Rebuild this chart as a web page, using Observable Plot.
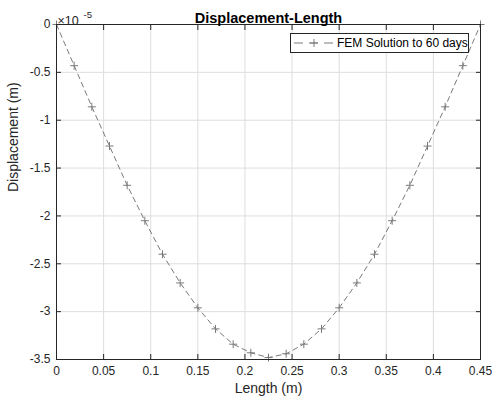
<!DOCTYPE html>
<html>
<head>
<meta charset="utf-8">
<script src="https://cdn.jsdelivr.net/npm/d3@7"></script>
<script src="https://cdn.jsdelivr.net/npm/@observablehq/plot@0.6"></script>
<style>
  html, body { margin: 0; padding: 0; background: #fff; }
  #wrap { position: relative; width: 494px; height: 405px; font-family: "Liberation Sans", Arial, Helvetica, sans-serif; }
  #legend { position: absolute; left: 290px; top: 33px; width: 177px; height: 18px; border: 1px solid #262626; background: #fff;
    display: flex; align-items: center; font-size: 12px; color: #000; white-space: nowrap; }
  #legend svg { margin-left: 2px; margin-right: 2px; }
</style>
</head>
<body>
<div id="wrap"></div>
<script>
// Data (displacement in units of 1e-5 m)
const lengthM = [0, 0.01875, 0.0375, 0.05625, 0.075, 0.09375, 0.1125, 0.13125, 0.15, 0.16875, 0.1875, 0.20625, 0.225,
  0.24375, 0.2625, 0.28125, 0.3, 0.31875, 0.3375, 0.35625, 0.375, 0.39375, 0.4125, 0.43125, 0.45];
const displacement = [0, -0.43, -0.86, -1.27, -1.68, -2.05, -2.40, -2.70, -2.96, -3.18, -3.34, -3.43, -3.48,
  -3.44, -3.34, -3.18, -2.96, -2.70, -2.40, -2.05, -1.68, -1.27, -0.86, -0.43, 0];
const xTicks = [0, 0.05, 0.1, 0.15, 0.2, 0.25, 0.3, 0.35, 0.4, 0.45];
const yTicks = [0, -0.5, -1, -1.5, -2, -2.5, -3, -3.5];
const seriesName = "FEM Solution to 60 days";
const titleText = "Displacement-Length";
const xLabel = "Length (m)";
const yLabel = "Displacement (m)";
const exponentBase = "\u00d710";
const exponentText = "-5";

const data = lengthM.map((x, i) => ({x, y: displacement[i]}));
const lineColor = "#7a7a7a";
const axisColor = "#262626";
const cross = {
  draw(context, size) {
    const r = Math.sqrt(size / Math.PI);
    context.moveTo(-r, 0); context.lineTo(r, 0);
    context.moveTo(0, -r); context.lineTo(0, r);
  }
};
const fmt = d => String(d);

const chart = Plot.plot({
  width: 494, height: 405,
  marginTop: 24, marginLeft: 56, marginRight: 14, marginBottom: 46,
  style: {fontFamily: "'Liberation Sans', Arial, Helvetica, sans-serif", fontSize: "12px", color: axisColor, background: "#fff", overflow: "visible"},
  x: {domain: [0, 0.45], label: null},
  y: {domain: [-3.5, 0], label: null},
  marks: [
    Plot.gridX(xTicks, {stroke: "#dedede", strokeOpacity: 1}),
    Plot.gridY(yTicks, {stroke: "#dedede", strokeOpacity: 1}),
    Plot.line(data, {x: "x", y: "y", stroke: lineColor, strokeWidth: 1, strokeDasharray: "5,4"}),
    Plot.dot(data, {x: "x", y: "y", symbol: cross, r: 4, stroke: lineColor, fill: "none", strokeWidth: 1}),
    Plot.frame({stroke: axisColor, strokeWidth: 1}),
    Plot.axisX(xTicks, {anchor: "bottom", tickSize: -5, tickPadding: 12, tickFormat: fmt, stroke: axisColor, fill: axisColor, label: null}),
    Plot.axisX(xTicks, {anchor: "top", tickSize: -5, tickFormat: () => "", stroke: axisColor, label: null}),
    Plot.axisY(yTicks, {anchor: "left", tickSize: -5, tickPadding: 11, tickFormat: fmt, stroke: axisColor, fill: axisColor, label: null}),
    Plot.axisY(yTicks, {anchor: "right", tickSize: -5, tickFormat: () => "", stroke: axisColor, label: null}),
    Plot.text([titleText], {text: d => d, frameAnchor: "top", dy: -12, fontWeight: "bold", fontSize: 14.5, fill: "#000"}),
    Plot.text([xLabel], {text: d => d, frameAnchor: "bottom", dy: 33, fontSize: 14, fill: axisColor}),
    Plot.text([yLabel], {text: d => d, frameAnchor: "left", dx: -43, rotate: -90, fontSize: 14, fill: axisColor}),
    Plot.text([exponentBase], {text: d => d, frameAnchor: "top-left", textAnchor: "start", dx: 1, dy: -8, fontSize: 12.5, fill: axisColor}),
    Plot.text([exponentText], {text: d => d, frameAnchor: "top-left", textAnchor: "start", dx: 27, dy: -13, fontSize: 9.5, fill: axisColor})
  ]
});
const wrap = document.getElementById("wrap");
wrap.appendChild(chart);

const legend = document.createElement("div");
legend.id = "legend";
legend.innerHTML = `<svg width="42" height="16"><line x1="1" y1="8" x2="41" y2="8" stroke="${lineColor}" stroke-dasharray="9,6" /><path d="M17,8H25M21,4V12" stroke="${lineColor}" fill="none"/></svg><span></span>`;
legend.querySelector("span").textContent = seriesName;
wrap.appendChild(legend);
</script>
</body>
</html>
